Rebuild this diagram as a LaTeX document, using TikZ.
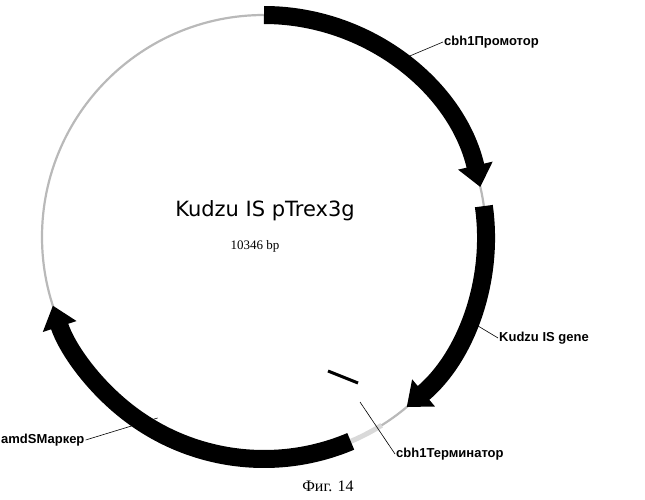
\documentclass[tikz,border=0pt]{standalone}
\usepackage{fontspec}
\setmainfont{Liberation Serif}
\newfontfamily\labfont{Liberation Sans}
\newfontfamily\titlefont{DejaVu Sans}
\usetikzlibrary{arrows.meta,calc}
\tikzset{
  feature/.style={line width=18pt,-{Triangle[length=22pt,width=34pt]}},
  lab/.style={font=\labfont\bfseries\fontsize{13}{15}\selectfont,inner sep=1pt},
  leader/.style={line width=0.6pt}
}
\begin{document}
\begin{tikzpicture}[x=1pt,y=1pt]
  \useasboundingbox (0,0) rectangle (645,499);
  \coordinate (c) at (264,262);
  % backbone
  \draw[gray!55,line width=2.2pt] (c) circle[radius=222];
  \draw[gray!30,line width=5pt] (c) ++(-58:222) arc[start angle=-58,end angle=-68,radius=222];
  % features
  \draw[feature] (c) ++(90:222) arc[start angle=90,end angle=13,radius=222];
  \draw[feature] (c) ++(8:222) arc[start angle=8,end angle=-50,radius=222];
  \draw[feature] (c) ++(-67:222) arc[start angle=-67,end angle=-162,radius=222];
  % terminator mark
  \draw[line width=3pt] ($(c)+(64,-134)$) coordinate (t1) -- ($(c)+(94,-146)$) coordinate (t2);
  % title
  \node[font=\titlefont\fontsize{21}{24}\selectfont] (title) at (265,288) {Kudzu IS pTrex3g};
  \node[font=\fontsize{13}{15}\selectfont] (size) at (255,253) {10346 bp};
  % labels
  \node[lab,anchor=west] (prom) at (443,457) {cbh1Промотор};
  \node[lab,anchor=west] (gene) at (498,161) {Kudzu IS gene};
  \node[lab,anchor=west] (term) at (395,45) {cbh1Терминатор};
  \node[lab,anchor=west] (amds) at (0,59) {amdSМаркер};
  \node[font=\fontsize{16}{18}\selectfont] (fig) at (328,13) {Фиг. 14};
  \draw[leader] (prom.west) -- ++(-38,-16);
  \draw[leader] (gene.west) -- ++(-20,12);
  \draw[leader] (term.west) -- ++(-35,52);
  \draw[leader] (amds.east) -- ++(72,22);
\end{tikzpicture}
\end{document}
